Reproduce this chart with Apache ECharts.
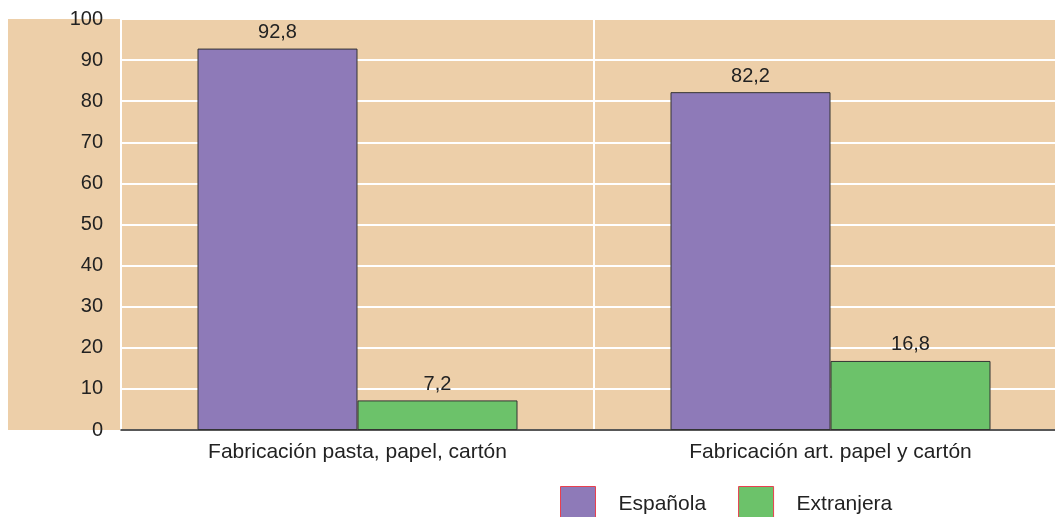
<!DOCTYPE html>
<html>
<head>
<meta charset="utf-8">
<script src="https://cdn.jsdelivr.net/npm/echarts@6/dist/echarts.min.js"></script>
<style>html,body{margin:0;padding:0;background:#fff}#c{width:1055px;height:517px}</style>
</head>
<body>
<div id="c"></div>
<script>
const categories = ['Fabricación pasta, papel, cartón', 'Fabricación art. papel y cartón'];
const seriesNames = ['Española', 'Extranjera'];
const espanola = [92.8, 82.2];
const extranjera = [7.2, 16.8];
const yTicks = [0, 10, 20, 30, 40, 50, 60, 70, 80, 90, 100];

const chart = echarts.init(document.getElementById('c'), null, {renderer: 'canvas'});
const font = 'Liberation Sans, Arial, Helvetica, sans-serif';
const fmt = v => String(v).replace('.', ',');
const colors = ['#8e7ab8', '#6cc26a'];

chart.setOption({
  animation: false,
  textStyle: {fontFamily: font},
  graphic: [{
    type: 'rect', left: 8, top: 19, z: -10, silent: true,
    shape: {width: 1047, height: 411},
    style: {fill: '#edcfa9'}
  }],
  grid: {left: 121, width: 946, top: 19, height: 411, containLabel: false, outerBoundsMode: 'none'},
  legend: {
    left: 560, top: 486, itemWidth: 35, itemHeight: 35, itemGap: 32, padding: 0,
    icon: 'rect',
    textStyle: {fontSize: 21, color: '#222', fontFamily: font, padding: [0, 0, 0, 18]},
    data: [
      {name: seriesNames[0], itemStyle: {color: colors[0], borderColor: '#e8404f', borderWidth: 1}},
      {name: seriesNames[1], itemStyle: {color: colors[1], borderColor: '#e8404f', borderWidth: 1}}
    ]
  },
  xAxis: {
    type: 'category', data: categories,
    axisLine: {show: true, lineStyle: {color: '#222', width: 1.5}},
    axisTick: {show: false},
    axisLabel: {fontSize: 21, color: '#222', margin: 12, fontFamily: font},
    splitLine: {show: true, lineStyle: {color: '#ffffff', width: 2}}
  },
  yAxis: {
    type: 'value', min: 0, max: 100, interval: 10,
    axisLine: {show: false}, axisTick: {show: false},
    axisLabel: {fontSize: 20, color: '#222', margin: 18, fontFamily: font,
      formatter: v => yTicks.includes(v) ? String(v) : ''},
    splitLine: {show: true, lineStyle: {color: '#ffffff', width: 2}}
  },
  series: [
    {name: seriesNames[0], type: 'bar', data: espanola, barWidth: 160, barGap: '0%',
      itemStyle: {color: colors[0], borderColor: '#333', borderWidth: 1},
      label: {show: true, position: 'top', distance: 6, fontSize: 20, color: '#222', fontFamily: font, formatter: p => fmt(p.value)}},
    {name: seriesNames[1], type: 'bar', data: extranjera, barWidth: 160, barGap: '0%',
      itemStyle: {color: colors[1], borderColor: '#333', borderWidth: 1},
      label: {show: true, position: 'top', distance: 6, fontSize: 20, color: '#222', fontFamily: font, formatter: p => fmt(p.value)}}
  ]
});
</script>
</body>
</html>
